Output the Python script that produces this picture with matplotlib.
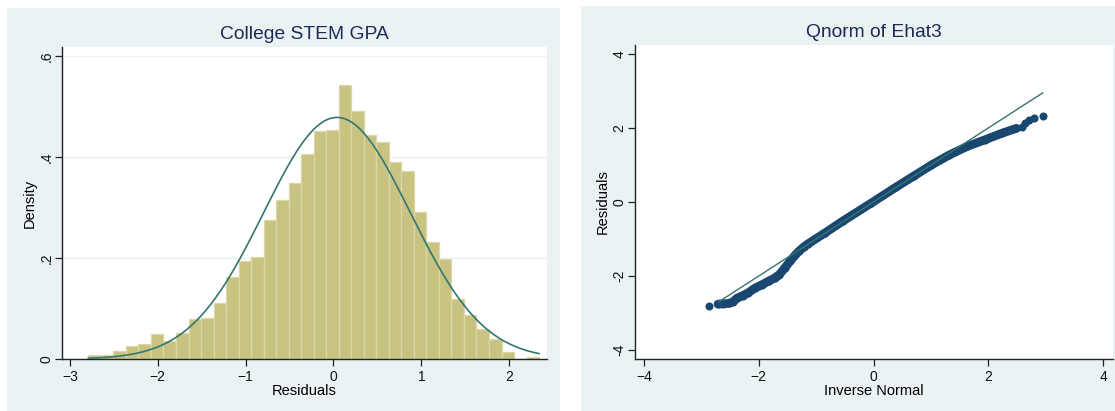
import numpy as np
import matplotlib
matplotlib.use("Agg")
import matplotlib.pyplot as plt
from matplotlib.patches import Rectangle

plt.rcParams['font.family'] = ['Liberation Sans', 'DejaVu Sans']

# ---- histogram of residuals (density per bin) ----
hist_start = -2.79
bin_width = 0.1425
hist_density = [0.0079, 0.0079, 0.0165, 0.026, 0.030, 0.0495, 0.036, 0.0515,
                0.080, 0.082, 0.111, 0.162, 0.195, 0.202, 0.275, 0.315,
                0.348, 0.406, 0.451, 0.453, 0.543, 0.491, 0.4436, 0.430,
                0.390, 0.372, 0.291, 0.232, 0.198, 0.119, 0.087, 0.060,
                0.040, 0.0139, 0.0, 0.0046]
resid_mean = 0.04
resid_sd = 0.8337

# ---- qnorm points (inverse normal vs residual) ----
qq_x = [-2.87, -2.71, -2.62, -2.52, -2.45, -2.38, -2.28, -2.19, -2.07, -1.95,
        -1.83, -1.72, -1.64, -1.55, -1.45, -1.38, -1.30, -1.22, -1.15, -0.84,
        -0.53, -0.04, 0.39, 0.70, 1.01, 1.32, 1.63, 1.94, 2.24, 2.49, 2.58,
        2.64, 2.71, 2.80, 2.95]
qq_y = [-2.80, -2.76, -2.75, -2.74, -2.70, -2.60, -2.53, -2.46, -2.33, -2.24,
        -2.14, -2.05, -1.96, -1.79, -1.59, -1.46, -1.33, -1.22, -1.14, -0.83,
        -0.51, -0.03, 0.40, 0.70, 1.00, 1.27, 1.50, 1.68, 1.86, 1.99, 2.04,
        2.14, 2.22, 2.26, 2.32]
ref_line = [-2.70, 2.95]

left_xticks = [-3, -2, -1, 0, 1, 2]
left_yticks = [0, 0.2, 0.4, 0.6]
left_ylabels = ["0", ".2", ".4", ".6"]
right_ticks = [-4, -2, 0, 2, 4]

bg = '#eaf2f3'
navy_title = '#1e2b57'
bar_fill = '#c9c382'
bar_edge = '#dbd7a6'
teal = '#357670'
marker_col = '#1a476f'
axis_col = '#222222'

fig = plt.figure(figsize=(11.15, 4.11), dpi=100)
W, H = 1115, 411

# panel backgrounds (pixel coords -> figure fraction)
fig.patches.append(Rectangle((7 / W, 0), 553 / W, 403 / H, transform=fig.transFigure,
                             facecolor=bg, edgecolor='none', zorder=-10))
fig.patches.append(Rectangle((581 / W, 0), 534 / W, 405 / H, transform=fig.transFigure,
                             facecolor=bg, edgecolor='none', zorder=-10))

ax1 = fig.add_axes([62 / W, 52 / H, 485 / W, 312 / H])
ax2 = fig.add_axes([635 / W, 52 / H, 478 / W, 314 / H])


def style_axes(ax):
    ax.set_facecolor('white')
    for s in ['top', 'right']:
        ax.spines[s].set_visible(False)
    for s in ['left', 'bottom']:
        ax.spines[s].set_color(axis_col)
        ax.spines[s].set_linewidth(1.0)
    ax.tick_params(direction='out', length=5, width=0.9, color=axis_col,
                   labelsize=10, labelcolor='#111111')
    ax.tick_params(axis='x', pad=3)
    ax.tick_params(axis='y', pad=1)


# ---- left: histogram ----
style_axes(ax1)
lefts = hist_start + bin_width * np.arange(len(hist_density))
ax1.bar(lefts, hist_density, width=bin_width, align='edge', color=bar_fill,
        edgecolor=bar_edge, linewidth=0.9, zorder=2)
xs = np.linspace(hist_start, hist_start + bin_width * len(hist_density), 300)
dens = np.exp(-0.5 * ((xs - resid_mean) / resid_sd) ** 2) / (resid_sd * np.sqrt(2 * np.pi))
ax1.plot(xs, dens, color=teal, lw=1.2, zorder=3)
ax1.set_xlim(-3.09, 2.43)
ax1.set_ylim(0, 0.618)
ax1.set_xticks(left_xticks)
ax1.set_yticks(left_yticks)
ax1.set_yticklabels(left_ylabels, rotation=90, va='center')
ax1.yaxis.grid(True, color=bg, lw=1.0, zorder=0)
ax1.set_axisbelow(True)
ax1.set_xlabel('Residuals', fontsize=10.5, labelpad=0)
ax1.set_ylabel('Density', fontsize=10.5, labelpad=2)
ax1.set_title('College STEM GPA', fontsize=13.9, color=navy_title, pad=6)

# ---- right: qnorm ----
style_axes(ax2)
ax2.plot(qq_x[1:-5], qq_y[1:-5], color=marker_col, lw=6.3,
         solid_capstyle='round', solid_joinstyle='round', zorder=2)
ax2.plot(qq_x, qq_y, 'o', color=marker_col, ms=5.8, mew=0, zorder=2)
ax2.plot(ref_line, ref_line, color=teal, lw=1.0, zorder=3)
ax2.set_xlim(-4.157, 4.174)
ax2.set_ylim(-4.243, 4.243)
ax2.set_xticks(right_ticks)
ax2.set_yticks(right_ticks)
ax2.set_yticklabels([str(t) for t in right_ticks], rotation=90, va='center')
ax2.set_xlabel('Inverse Normal', fontsize=10.5, labelpad=0)
ax2.set_ylabel('Residuals', fontsize=10.5, labelpad=2)
ax2.set_title('Qnorm of Ehat3', fontsize=13.9, color=navy_title, pad=6)

fig.savefig('out.png', dpi=100)
